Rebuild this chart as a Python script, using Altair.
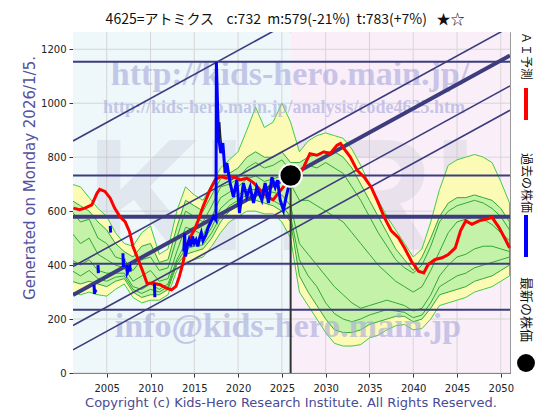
import altair as alt
import pandas as pd

# ---------------- data ----------------
years = list(range(2001, 2052))
outer_hi = [700, 690, 650, 610, 580, 520, 480, 470, 520, 545, 440, 460, 600,
            690, 660, 640, 700, 760, 790, 820, 900, 985, 910, 930, 1000, 930,
            820, 860, 880, 890, 880, 870, 830, 770, 700, 640, 580, 530, 480,
            430, 460, 560, 680, 770, 790, 800, 810, 800, 780, 710, 630]
outer_lo = [300, 290, 300, 290, 285, 310, 330, 280, 260, 270, 270, 290, 380,
            410, 420, 430, 470, 520, 560, 580, 600, 600, 590, 590, 560, 500,
            300, 250, 200, 150, 110, 100, 100, 105, 130, 140, 160, 175, 180,
            160, 165, 200, 250, 260, 270, 280, 300, 310, 320, 340, 360]
inner_hi = [640, 620, 600, 560, 530, 480, 450, 430, 470, 480, 410, 420, 540,
            640, 620, 600, 660, 720, 740, 760, 800, 820, 800, 800, 820, 780,
            780, 800, 810, 820, 820, 800, 760, 700, 640, 580, 520, 460, 420,
            380, 430, 500, 580, 630, 650, 650, 660, 650, 640, 610, 560]
inner_lo = [340, 330, 340, 330, 320, 340, 350, 300, 280, 290, 290, 310, 400,
            440, 450, 460, 500, 560, 600, 620, 640, 640, 630, 620, 600, 560,
            360, 300, 250, 200, 160, 150, 150, 160, 180, 190, 200, 210, 210,
            190, 200, 240, 290, 300, 310, 320, 340, 350, 360, 380, 400]
sim_a = [600, 560, 570, 500, 480, 430, 420, 380, 420, 430, 380, 390, 500,
         600, 580, 560, 620, 690, 700, 720, 760, 780, 760, 770, 790, 750,
         740, 770, 760, 780, 760, 740, 690, 640, 580, 520, 470, 420, 390,
         370, 400, 470, 560, 600, 620, 630, 640, 630, 610, 580, 530]
sim_b = [520, 480, 500, 440, 420, 400, 390, 340, 360, 380, 340, 350, 450,
         540, 530, 510, 580, 650, 670, 690, 720, 730, 710, 720, 730, 700,
         640, 640, 620, 600, 580, 560, 520, 480, 440, 400, 370, 340, 320,
         300, 320, 380, 450, 520, 560, 570, 580, 570, 550, 520, 490]
sim_c = [420, 400, 420, 380, 370, 370, 370, 320, 310, 330, 310, 330, 420,
         480, 490, 490, 540, 610, 640, 660, 680, 680, 670, 670, 660, 620,
         480, 440, 400, 360, 320, 290, 260, 240, 250, 260, 270, 260, 250,
         230, 240, 290, 360, 400, 430, 440, 460, 470, 470, 460, 450]
sim_d = [380, 360, 380, 350, 340, 355, 360, 310, 295, 310, 300, 320, 410,
         460, 470, 475, 520, 580, 620, 640, 660, 660, 650, 640, 620, 580,
         420, 360, 320, 260, 220, 200, 190, 200, 215, 225, 235, 230, 225,
         205, 215, 260, 320, 340, 360, 370, 390, 400, 410, 420, 430]

red_years = [2001.2, 2001.9, 2002.5, 2003.3, 2003.9, 2004.2, 2004.8, 2005.4, 2005.9,
             2006.5, 2007.1, 2007.6, 2008.0, 2008.6, 2009.2, 2009.6, 2010.3, 2011.1,
             2011.8, 2012.4, 2012.9, 2013.3, 2013.7, 2014.1, 2014.5, 2015.0, 2015.5,
             2016.0, 2016.8, 2017.4, 2018.0, 2018.7, 2019.5, 2020.2, 2021.0, 2021.8,
             2022.5, 2023.3, 2024.0, 2024.6, 2025.2, 2025.7, 2026.0, 2026.3, 2026.9,
             2027.5, 2028.2, 2029.0, 2029.8, 2030.5, 2031.3, 2031.7, 2032.1, 2032.8,
             2033.6, 2034.4, 2035.2, 2035.9, 2036.7, 2037.5, 2038.3, 2039.0, 2039.8,
             2040.6, 2041.2, 2041.7, 2042.5, 2043.3, 2044.0, 2044.8, 2045.4, 2046.0,
             2046.7, 2047.5, 2048.3, 2049.0, 2049.8, 2050.6, 2051.0]
red_vals = [611, 605, 611, 623, 667, 681, 673, 648, 611,
            580, 561, 524, 469, 420, 370, 333, 333, 327,
            315, 308, 321, 358, 407, 469, 500, 530, 570,
            617, 679, 716, 728, 722, 728, 716, 722, 704,
            679, 654, 642, 667, 691, 716, 732, 700, 730,
            764, 813, 807, 820, 813, 844, 851, 832, 801,
            751, 726, 689, 639, 577, 527, 502, 464, 414,
            377, 371, 402, 421, 427, 439, 464, 527, 564,
            551, 564, 570, 577, 539, 490, 464]

blue_years = [2003.55, 2003.6, 2003.7, 2003.85,
              2004.0, 2004.05,
              2005.4, 2005.45,
              2006.85, 2006.9, 2006.95,
              2007.3, 2007.35, 2007.65, 2007.7,
              2010.45, 2010.5,
              2013.8, 2013.9, 2014.0, 2014.2, 2014.4, 2014.6, 2014.8, 2015.0, 2015.2,
              2015.4, 2015.6, 2015.8, 2016.0, 2016.3, 2016.6, 2016.9, 2017.2, 2017.48,
              2017.52, 2017.76, 2018.03, 2018.26, 2018.52, 2018.72, 2019.09, 2019.47,
              2019.86, 2020.16, 2020.61, 2021.0, 2021.38, 2021.76, 2022.14, 2022.72,
              2023.09, 2023.47, 2023.86, 2024.24, 2024.5, 2024.81, 2025.18, 2025.49,
              2025.76]
blue_vals = [327, 293, 305, 308,
             400, 370,
             545, 520,
             444, 393, 425,
             400, 372, 392, 376,
             333, 281,
             450, 517, 432, 469, 493, 469, 506, 481, 493,
             469, 500, 520, 490, 510, 540, 560, 580, 567,
             1153, 875, 815, 852, 741, 778, 704, 653,
             715, 593, 704, 653, 689, 630, 689, 641,
             704, 630, 726, 689, 715, 641, 604, 653,
             689]
blue_seg = [1, 1, 1, 1, 2, 2, 3, 3, 4, 4, 4, 5, 5, 5, 5, 6, 6] + [7] * 43

trace_years = [2017.8, 2017.9, 2018.0, 2018.15]
trace_vals = [860, 930, 880, 830]

level_lines = [1154, 732, 405, 234]
main_level = [579]
chan_start = [860, 395, 176, 86]
chan_end = [1748, 1283, 1064, 974]
trend_start = [289]
trend_end = [1177]

x_range = [2001.15, 2051.05]
y_range = [0, 1264]
now_year = 2026.0
now_price = 732
x_ticks = [2005, 2010, 2015, 2020, 2025, 2030, 2035, 2040, 2045, 2050]
y_ticks = [0, 200, 400, 600, 800, 1000, 1200]

title_text = ("4625=アトミクス\u00a0\u00a0\u00a0\u00a0c:732\u00a0\u00a0m:579(-21%)"
              "\u00a0\u00a0t:783(+7%)\u00a0\u00a0\u00a0★☆")
gen_text = "Generated on Monday 2026/1/5."
copy_text = "Copyright (c) Kids-Hero Research Institute. All Rights Reserved."
wm_main = "http://kids-hero.main.jp/"
wm_sub = "http://kids-hero.main.jp/analysis/code4625.htm"
wm_mail = "info@kids-hero.main.jp"
wm_big = "KHRI"
legend_ai = "ＡＩ予測"
legend_past = "過去の株価"
legend_now = "最新の株価"

# ---------------- tables ----------------
bands = pd.DataFrame({"year": years, "ohi": outer_hi, "olo": outer_lo,
                      "ihi": inner_hi, "ilo": inner_lo})
sims = pd.concat([pd.DataFrame({"year": years, "v": s, "sim": n})
                  for n, s in (("a", sim_a), ("b", sim_b), ("c", sim_c), ("d", sim_d))])
red = pd.DataFrame({"year": red_years, "v": red_vals})
blue = pd.DataFrame({"year": blue_years, "v": blue_vals, "seg": blue_seg})
trace = pd.DataFrame({"year": trace_years, "v": trace_vals})


def channel_table(starts, ends):
    rows = []
    for i, (s, e) in enumerate(zip(starts, ends)):
        rows.append({"year": x_range[0], "v": s, "id": i})
        rows.append({"year": x_range[1], "v": e, "id": i})
    return pd.DataFrame(rows)


chan = channel_table(chan_start, chan_end)
trend = channel_table(trend_start, trend_end)

W, H = 437, 341
XS = alt.Scale(domain=x_range, nice=False, zero=False)
YS = alt.Scale(domain=y_range, nice=False, zero=False)

xaxis = alt.Axis(values=x_ticks, format="d", title=None, grid=False,
                 labelFont="DejaVu Sans", labelFontSize=10, labelColor="#222",
                 tickColor="#333", domainColor="#333", tickSize=4, labelPadding=6,
                 labelFlush=False)
yaxis = alt.Axis(values=y_ticks, format="d", title=None, grid=False,
                 labelFont="DejaVu Sans", labelFontSize=10, labelColor="#222",
                 tickColor="#333", domainColor="#333", tickSize=4, labelPadding=3)


def xq(f):
    return alt.X(f, type="quantitative", scale=XS, axis=xaxis)


def yq(f):
    return alt.Y(f, type="quantitative", scale=YS, axis=yaxis)


def txt(s):
    return pd.DataFrame({"t": [s]})


NAVY = "#3c3c7e"

bg = alt.Chart(pd.DataFrame({"x0": [x_range[0], now_year], "x1": [now_year, x_range[1]],
                             "part": ["past", "future"]})).mark_rect().encode(
    x=xq("x0"), x2="x1", y=alt.value(0), y2=alt.value(H),
    color=alt.Color("part:N", scale=alt.Scale(domain=["past", "future"],
                                              range=["#eef7fa", "#faeff8"]), legend=None))

vgrid = alt.Chart(pd.DataFrame({"v": x_ticks})).mark_rule(color="#d6d6d6", strokeWidth=1).encode(
    x=xq("v"))
hgrid = alt.Chart(pd.DataFrame({"v": y_ticks})).mark_rule(color="#d6d6d6", strokeWidth=1).encode(
    y=yq("v"))

big = alt.Chart(txt(wm_big)).mark_text(font="Liberation Sans", fontWeight="bold", fontSize=160,
                                       color="#b8b8cc", opacity=0.25).encode(
    x=alt.value(209), y=alt.value(170), text="t:N")

outer = alt.Chart(bands).mark_area(clip=True, fill="#fbfbb6", stroke="#44cc44", strokeWidth=1).encode(
    x=xq("year"), y=yq("ohi"), y2="olo")
inner = alt.Chart(bands).mark_area(clip=True, fill="#c4f2a8", stroke="#33aa33", strokeWidth=1).encode(
    x=xq("year"), y=yq("ihi"), y2="ilo")
simlines = alt.Chart(sims).mark_line(clip=True, color="#33a833", strokeWidth=1).encode(
    x=xq("year"), y=yq("v"), detail="sim:N")

wm1 = alt.Chart(txt(wm_main)).mark_text(font="Liberation Serif", fontWeight="bold", fontSize=34,
                                        color="#a8a8dc", opacity=0.6).encode(
    x=alt.value(217), y=alt.value(43), text="t:N")
wm2 = alt.Chart(txt(wm_sub)).mark_text(font="Liberation Serif", fontWeight="bold", fontSize=18,
                                       color="#a8a8dc", opacity=0.6).encode(
    x=alt.value(211), y=alt.value(76), text="t:N")
wm3 = alt.Chart(txt(wm_mail)).mark_text(font="Liberation Serif", fontWeight="bold", fontSize=34,
                                        color="#a8a8dc", opacity=0.6).encode(
    x=alt.value(215), y=alt.value(295), text="t:N")

levels = alt.Chart(pd.DataFrame({"v": level_lines})).mark_rule(color=NAVY, strokeWidth=2).encode(
    y=yq("v"))
mlevel = alt.Chart(pd.DataFrame({"v": main_level})).mark_rule(color=NAVY, strokeWidth=4).encode(
    y=yq("v"))
chans = alt.Chart(chan).mark_line(clip=True, color=NAVY, strokeWidth=1.6).encode(
    x=xq("year"), y=yq("v"), detail="id:N")
trends = alt.Chart(trend).mark_line(clip=True, color=NAVY, strokeWidth=4).encode(
    x=xq("year"), y=yq("v"), detail="id:N")

redline = alt.Chart(red).mark_line(color="#ff0000", strokeWidth=3).encode(x=xq("year"), y=yq("v"))
traceline = alt.Chart(trace).mark_line(color="#222", strokeWidth=1.5).encode(x=xq("year"), y=yq("v"))
blueline = alt.Chart(blue).mark_line(color="#0000ff", strokeWidth=3).encode(
    x=xq("year"), y=yq("v"), detail="seg:N")

nowdf = pd.DataFrame({"x": [now_year], "y0": [0], "y1": [now_price]})
vline = alt.Chart(nowdf).mark_rule(color="#333", strokeWidth=2).encode(
    x=xq("x"), y=yq("y0"), y2="y1")
dot = alt.Chart(nowdf).mark_point(filled=True, shape="circle", size=500, color="black",
                                  stroke="white", strokeWidth=2, opacity=1).encode(
    x=xq("x"), y=yq("y1"))

title = alt.Chart(txt(title_text)).mark_text(font="Noto Sans CJK JP", fontSize=14, color="#111").encode(
    x=alt.value(212), y=alt.value(-12), text="t:N")
gen = alt.Chart(txt(gen_text)).mark_text(font="DejaVu Sans", fontSize=15, color="#5252a0", angle=270).encode(
    x=alt.value(-43), y=alt.value(146), text="t:N")
copyr = alt.Chart(txt(copy_text)).mark_text(font="DejaVu Sans", fontSize=13, color="#4a4a96").encode(
    x=alt.value(218), y=alt.value(371), text="t:N")

LX = 453
leg_ai = alt.Chart(txt(legend_ai)).mark_text(font="Noto Sans CJK JP", fontSize=12, color="#111",
                                             angle=90, align="left", baseline="middle").encode(
    x=alt.value(LX), y=alt.value(0), text="t:N")
leg_past = alt.Chart(txt(legend_past)).mark_text(font="Noto Sans CJK JP", fontSize=12, color="#111",
                                                 angle=90, align="left", baseline="middle").encode(
    x=alt.value(LX), y=alt.value(121), text="t:N")
leg_now = alt.Chart(txt(legend_now)).mark_text(font="Noto Sans CJK JP", fontSize=13, color="#111",
                                               angle=90, align="left", baseline="middle").encode(
    x=alt.value(LX), y=alt.value(245), text="t:N")
bar_red = alt.Chart(txt("r")).mark_rule(color="#ff0000", strokeWidth=4).encode(
    x=alt.value(LX), y=alt.value(56), y2=alt.value(88))
bar_blue = alt.Chart(txt("b")).mark_rule(color="#0000ff", strokeWidth=4).encode(
    x=alt.value(LX), y=alt.value(183), y2=alt.value(225))
leg_dot = alt.Chart(txt("d")).mark_point(filled=True, shape="circle", size=320, color="black",
                                         opacity=1).encode(x=alt.value(LX), y=alt.value(331))

chart = alt.layer(
    bg, vgrid, hgrid, big, outer, inner, simlines, wm1, wm2, wm3,
    levels, mlevel, chans, trends, redline, traceline, blueline, vline, dot,
    title, gen, copyr, leg_ai, leg_past, leg_now, bar_red, bar_blue, leg_dot,
).properties(
    width=W, height=H,
    padding={"left": 65, "top": 24, "right": 40, "bottom": 38},
    autosize=alt.AutoSizeParams(type="none"),
).configure_view(stroke="#999", strokeWidth=1)

chart.save("out.html", embed_options={"renderer": "svg", "actions": False})
